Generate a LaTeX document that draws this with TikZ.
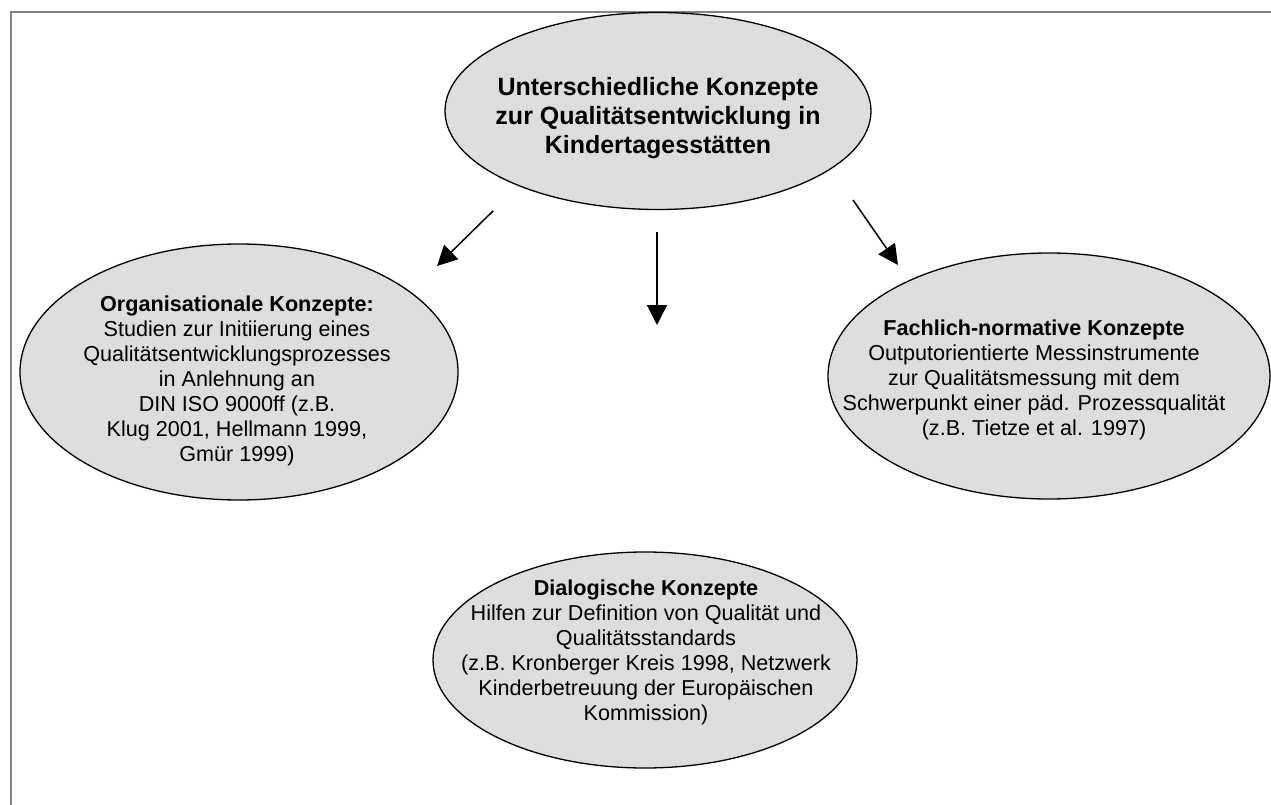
\documentclass[tikz,border=0pt]{standalone}
\usepackage{fontspec}
\setmainfont{Liberation Sans}
\usetikzlibrary{shapes.geometric,arrows.meta}
\definecolor{ellfill}{HTML}{DDDDDD}
\definecolor{framegray}{HTML}{808080}
\tikzset{
  ell/.style={ellipse, draw=black, line width=1.3pt, fill=ellfill, inner sep=0pt},
  bodytext/.style={align=center, font=\fontsize{21.6}{25}\selectfont, inner sep=0pt},
  titletext/.style={align=center, font=\fontsize{25}{29}\selectfont\bfseries, inner sep=0pt},
  arr/.style={line width=1.5pt, -{Triangle[length=20pt,width=20pt]}}
}
\begin{document}
\begin{tikzpicture}[x=1pt,y=-1pt]
\useasboundingbox (0,0) rectangle (1271,805);
\draw[framegray, line width=2.2pt] (11,805) -- (11,12) -- (1271,12);

\node[ell, minimum width=426pt, minimum height=197pt] (top) at (658,111) {};
\node[titletext] (toptext) at (658,118) {Unterschiedliche Konzepte\\zur Qualitätsentwicklung in\\Kindertagesstätten};

\node[ell, minimum width=438pt, minimum height=256pt] (left) at (239,372) {};
\node[bodytext] (lefttext) at (237,381) {\textbf{Organisationale Konzepte:}\\Studien zur Initiierung eines\\Qualitätsentwicklungsprozesses\\in Anlehnung an\\DIN ISO 9000ff (z.B.\\Klug 2001, Hellmann 1999,\\Gmür 1999)};

\node[ell, minimum width=442pt, minimum height=246pt] (right) at (1049,376) {};
\node[bodytext] (righttext) at (1034,380) {\textbf{Fachlich-normative Konzepte}\\Outputorientierte Messinstrumente\\zur Qualitätsmessung mit dem\\Schwerpunkt einer päd. Prozessqualität\\(z.B. Tietze et al. 1997)};

\node[ell, minimum width=424pt, minimum height=216pt] (bottom) at (645,660) {};
\node[bodytext] (bottomtext) at (646,652) {\textbf{Dialogische Konzepte}\\Hilfen zur Definition von Qualität und\\Qualitätsstandards\\(z.B. Kronberger Kreis 1998, Netzwerk\\Kinderbetreuung der Europäischen\\Kommission)};

\coordinate (a1s) at (493,211);
\coordinate (a1e) at (437,266);
\coordinate (a2s) at (657,232);
\coordinate (a2e) at (657,325);
\coordinate (a3s) at (853,200);
\coordinate (a3e) at (898,265);
\draw[arr] (a1s) -- (a1e);
\draw[arr] (a2s) -- (a2e);
\draw[arr] (a3s) -- (a3e);
\end{tikzpicture}
\end{document}
